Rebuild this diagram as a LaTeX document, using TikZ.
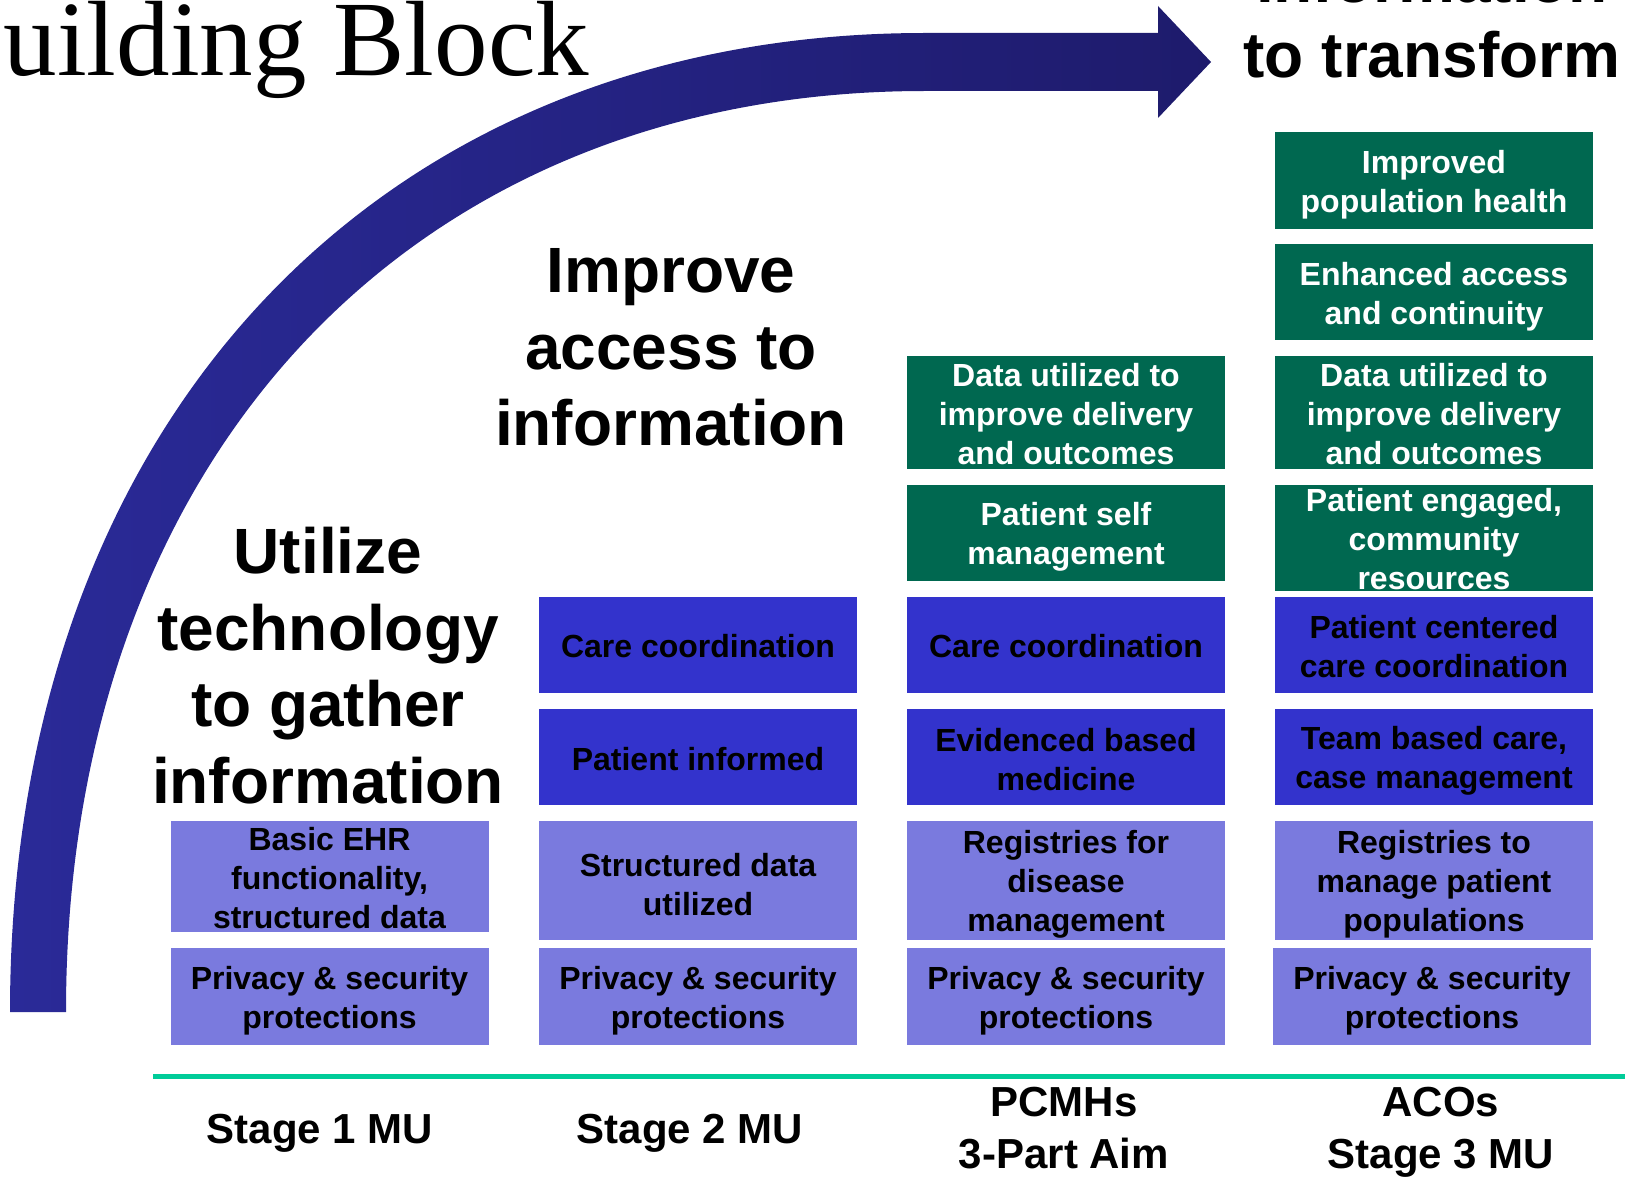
\documentclass[tikz,border=0pt]{standalone}
\usepackage{fontspec}
\setmainfont{Liberation Sans}
\newfontfamily\serifblock{Liberation Serif}
\usepackage{tikz}

\definecolor{blockgreen}{RGB}{0,104,80}
\definecolor{blockblue}{RGB}{51,51,204}
\definecolor{blocklight}{RGB}{122,122,222}
\definecolor{baseteal}{RGB}{0,204,153}
\definecolor{arrowlight}{RGB}{42,42,152}
\definecolor{arrowdark}{RGB}{30,27,108}

% fixed-height text cell, centred both ways (optional arg pushes text down)
\newcommand{\blocktext}[3][8]{\parbox[c][#2pt][c]{300pt}{\centering\vspace*{#1pt}#3}}

\tikzset{
  block/.style={inner xsep=9pt, inner ysep=0pt, font=\bfseries\fontsize{32}{39}\selectfont},
  greenblock/.style={block, fill=blockgreen, text=white},
  blueblock/.style={block, fill=blockblue, text=black},
  lightblock/.style={block, fill=blocklight, text=black},
  headline/.style={align=center, font=\bfseries\fontsize{64}{76.5}\selectfont},
  stagelabel/.style={align=center, font=\bfseries\fontsize{42}{52}\selectfont}
}

\begin{document}
\begin{tikzpicture}[x=1pt,y=-1pt]
\useasboundingbox (0,0) rectangle (1631,1177);
\clip (0,0) rectangle (1631,1177);

%%%CURVED ARROW
\shade[left color=arrowlight, right color=arrowdark]
(10,1012) .. controls (10,425) and (376,33) .. (925,33)
-- (1158,33) -- (1158,6) -- (1211,62) -- (1158,118) -- (1158,91)
-- (925,91) .. controls (410,91) and (66,459) .. (66,1012) -- cycle;

%%%HEADINGS
\node[anchor=base west, font=\serifblock\fontsize{107}{120}\selectfont] (blocktitle) at (0,76) {uilding Block};
\node[headline, font=\bfseries\fontsize{64}{75}\selectfont] (transformtitle) at (1432,17.5) {information\\to transform};
\node[headline] (accesstitle) at (671,347.5) {Improve\\access to\\information};
\node[headline] (gathertitle) at (328,665.5) {Utilize\\technology\\to gather\\information};

%%%STAGE 1 MU
\node[lightblock] (s1priv) at (329.5,996.5) {\blocktext{97}{Privacy \& security\\protections}};
\node[lightblock] (s1ehr) at (329.5,876.5) {\blocktext[3]{111}{Basic EHR\\functionality,\\structured data}};

%%%STAGE 2 MU
\node[lightblock] (s2priv) at (698,996.5) {\blocktext{97}{Privacy \& security\\protections}};
\node[lightblock] (s2data) at (698,880.5) {\blocktext{119}{Structured data\\utilized}};
\node[blueblock] (s2inform) at (698,757) {\blocktext[4]{96}{Patient informed}};
\node[blueblock] (s2care) at (698,645) {\blocktext[3]{96}{Care coordination}};

%%%PCMHs
\node[lightblock] (pcmhpriv) at (1066,996.5) {\blocktext{97}{Privacy \& security\\protections}};
\node[lightblock] (pcmhreg) at (1066,880.5) {\blocktext[8]{119}{Registries for\\disease\\management}};
\node[blueblock] (pcmhebm) at (1066,757) {\blocktext[6]{96}{Evidenced based\\medicine}};
\node[blueblock] (pcmhcare) at (1066,645) {\blocktext[3]{96}{Care coordination}};
\node[greenblock] (pcmhself) at (1066,533) {\blocktext{96}{Patient self\\management}};
\node[greenblock] (pcmhdata) at (1066,412.5) {\blocktext[4]{113}{Data utilized to\\improve delivery\\and outcomes}};

%%%ACOs
\node[lightblock] (acopriv) at (1432,996.5) {\blocktext{97}{Privacy \& security\\protections}};
\node[lightblock] (acoreg) at (1434,880.5) {\blocktext[8]{119}{Registries to\\manage patient\\populations}};
\node[blueblock] (acoteam) at (1434,757) {\blocktext[8]{96}{Team based care,\\case management}};
\node[blueblock] (acocare) at (1434,645) {\blocktext[4]{96}{Patient centered\\care coordination}};
\node[greenblock] (acoengage) at (1434,538) {\blocktext[2]{106}{Patient engaged,\\community\\resources}};
\node[greenblock] (acodata) at (1434,412.5) {\blocktext[4]{113}{Data utilized to\\improve delivery\\and outcomes}};
\node[greenblock] (acoaccess) at (1434,292) {\blocktext[10]{96}{Enhanced access\\and continuity}};
\node[greenblock] (acohealth) at (1434,180.5) {\blocktext[8]{97}{Improved\\population health}};

%%%BASE LINE AND STAGES
\draw[baseteal, line width=4.5pt] (153,1076.5) -- (1625,1076.5);
\node[stagelabel, anchor=base] (s1label) at (320,1143) {Stage 1 MU};
\node[stagelabel, anchor=base] (s2label) at (690,1143) {Stage 2 MU};
\node[stagelabel] (pcmhlabel) at (1064,1128) {PCMHs\\3-Part Aim};
\node[stagelabel] (acolabel) at (1441,1132.4) {ACOs\\Stage 3 MU};
\end{tikzpicture}
\end{document}
